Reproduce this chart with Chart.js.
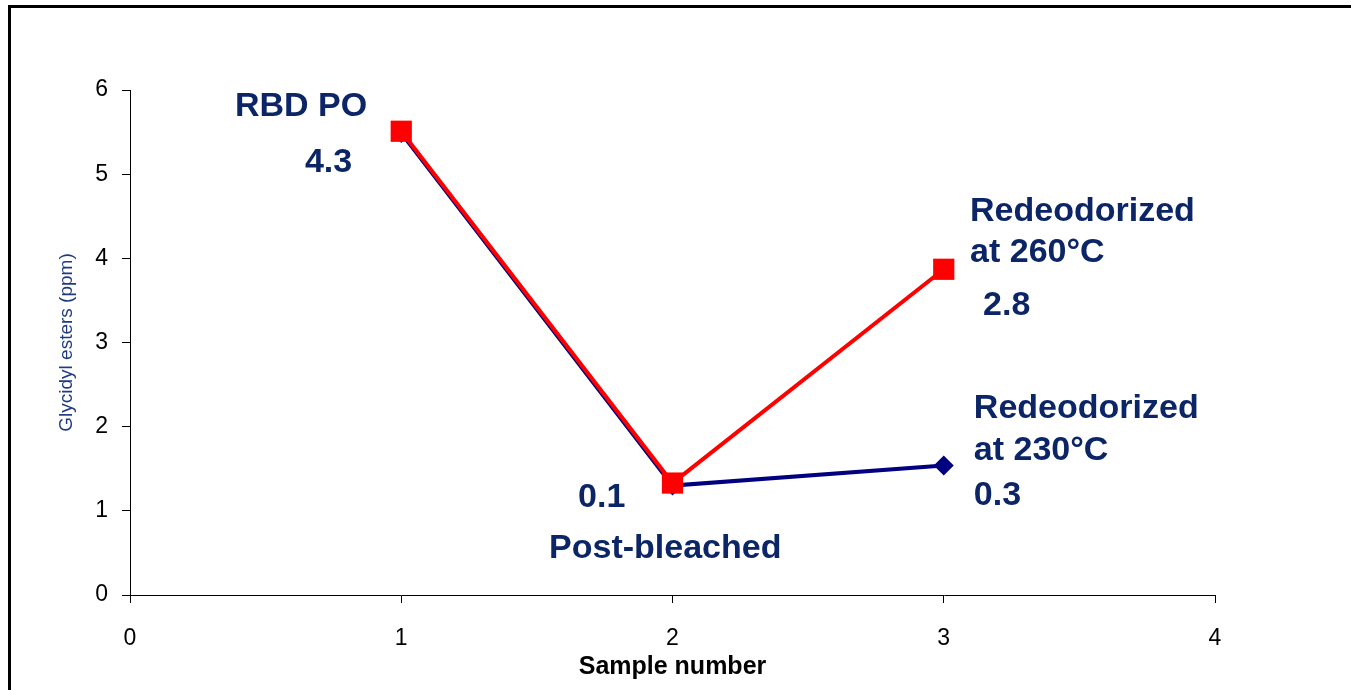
<!DOCTYPE html>
<html>
<head>
<meta charset="utf-8">
<script src="https://cdn.jsdelivr.net/npm/chart.js@4.4.1/dist/chart.umd.min.js"></script>
<style>
  html, body { margin: 0; padding: 0; background: #fff; }
  #wrap { position: relative; width: 1351px; height: 690px; }
  #frame { position: absolute; left: 8px; top: 5px; width: 1360px; height: 700px;
           border-left: 3px solid #000; border-top: 3px solid #000; box-sizing: border-box; }
</style>
</head>
<body>
<div id="wrap">
  <canvas id="chart" width="1351" height="690"></canvas>
  <div id="frame"></div>
</div>
<script>
// sample numbers and measured values
var samples = [1, 2, 3];
var temp230 = [5.49, 1.3, 1.54];
var temp260 = [5.51, 1.33, 3.87];
var xTicks = [0, 1, 2, 3, 4];
var yTicks = [0, 1, 2, 3, 4, 5, 6];

// annotation text, placed in data units
var notes = [
  { text: "RBD PO", x: 0.387, y: 5.80 },
  { text: "4.3", x: 0.645, y: 5.14 },
  { text: "Redeodorized", x: 3.097, y: 4.55 },
  { text: "at 260°C", x: 3.097, y: 4.07 },
  { text: "2.8", x: 3.145, y: 3.44 },
  { text: "Redeodorized", x: 3.111, y: 2.21 },
  { text: "at 230°C", x: 3.111, y: 1.72 },
  { text: "0.3", x: 3.111, y: 1.18 },
  { text: "0.1", x: 1.652, y: 1.16 },
  { text: "Post-bleached", x: 1.545, y: 0.55 }
];

var navy = "#0b2566";

let notesPlugin = {
  id: "notes",
  afterDraw(chart) {
    let ctx = chart.ctx;
    let xs = chart.scales.x, ys = chart.scales.y;
    ctx.save();
    ctx.font = "bold 34px 'Liberation Sans', Arial, sans-serif";
    ctx.fillStyle = navy;
    ctx.textAlign = "left";
    ctx.textBaseline = "middle";
    notes.forEach(n => {
      ctx.fillText(n.text, xs.getPixelForValue(n.x), ys.getPixelForValue(n.y));
    });
    ctx.restore();
  }
};

let toPoints = (vals) => samples.map((s, i) => ({ x: s, y: vals[i] }));

new Chart("chart", {
  type: "line",
  data: {
    datasets: [{
      label: "260",
      data: toPoints(temp260),
      borderColor: "#ff0000",
      backgroundColor: "#ff0000",
      borderWidth: 4,
      pointStyle: "rect",
      pointRadius: 15,
      pointBorderWidth: 0,
      order: 0
    }, {
      label: "230",
      data: toPoints(temp230),
      borderColor: "#000080",
      backgroundColor: "#000080",
      borderWidth: 4,
      pointStyle: "rectRot",
      pointRadius: 10,
      pointBorderWidth: 0,
      order: 1
    }]
  },
  options: {
    responsive: false,
    animation: false,
    layout: { padding: { top: 90, right: 136, bottom: 0, left: 55 } },
    plugins: {
      legend: { display: false },
      tooltip: { enabled: false }
    },
    scales: {
      x: {
        type: "linear",
        min: 0,
        max: 4,
        afterBuildTicks: (axis) => { axis.ticks = xTicks.map(v => ({ value: v })); },
        afterFit: (axis) => { axis.height = 95; },
        grid: { drawOnChartArea: false, color: "#000", tickLength: 8 },
        border: { color: "#000", width: 1 },
        ticks: { color: "#000", padding: 22, font: { family: "'Liberation Sans', Arial", size: 23 } },
        title: {
          display: true,
          text: "Sample number",
          color: "#000",
          padding: { top: 2, bottom: 8 },
          font: { family: "'Liberation Sans', Arial", size: 25, weight: "bold" }
        }
      },
      y: {
        min: 0,
        max: 6,
        afterBuildTicks: (axis) => { axis.ticks = yTicks.map(v => ({ value: v })); },
        afterFit: (axis) => { axis.width = 75; },
        grid: { drawOnChartArea: false, color: "#000", tickLength: 8 },
        border: { color: "#000", width: 1 },
        ticks: { color: "#000", padding: 14, font: { family: "'Liberation Sans', Arial", size: 23 } },
        title: {
          display: true,
          text: "Glycidyl esters (ppm)",
          color: "#1f3a80",
          padding: { top: 0, bottom: 0 },
          font: { family: "'Liberation Sans', Arial", size: 19 }
        }
      }
    }
  },
  plugins: [notesPlugin]
});
</script>
</body>
</html>
